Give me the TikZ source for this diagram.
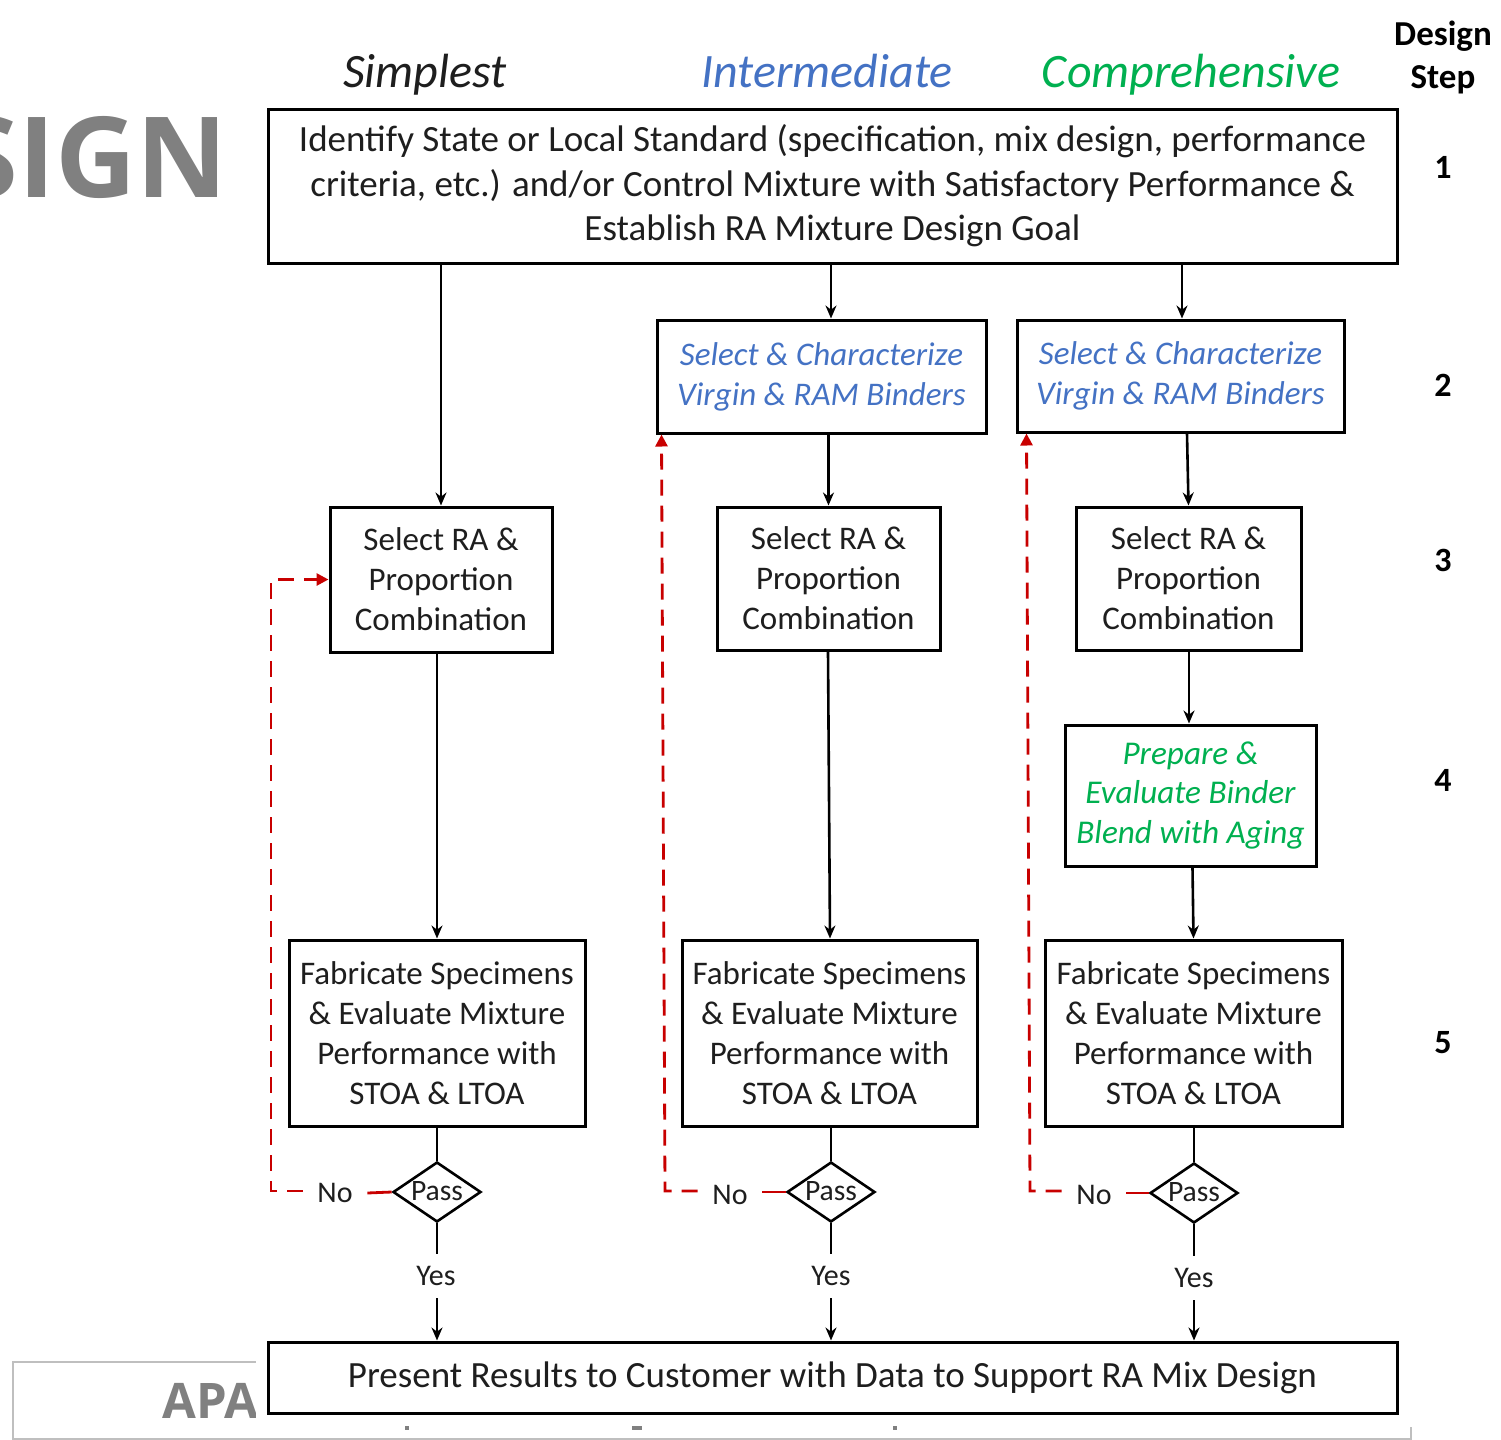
\documentclass[tikz,border=0pt]{standalone}
\usepackage{fontspec}
\setmainfont{Carlito}
\newfontfamily\grayfont{Open Sans}
\usetikzlibrary{arrows.meta,shapes.geometric,calc}
\definecolor{inkblue}{HTML}{4472C4}
\definecolor{inkgreen}{HTML}{00B050}
\definecolor{inkred}{HTML}{C80000}
\definecolor{ink}{HTML}{1E1E1E}
\definecolor{slide}{HTML}{808080}
\definecolor{frame}{HTML}{BFBFBF}
\begin{document}
\begin{tikzpicture}[x=0.5pt,y=-0.5pt,
  box/.style={draw=black,line width=1.5pt,fill=white,inner sep=0pt,align=center,
    text=ink,font=\fontsize{16.5}{20}\selectfont},
  bluebox/.style={box,text=inkblue,font=\fontsize{16.5}{20}\selectfont\itshape},
  greenbox/.style={box,text=inkgreen,font=\fontsize{16.6}{19.75}\selectfont\itshape},
  check/.style={draw=black,line width=1.3pt,fill=white,shape=diamond,aspect=1.47,
    inner sep=0pt,minimum width=44pt,minimum height=30pt,text=ink,
    font=\fontsize{14.8}{14.8}\selectfont},
  conn/.style={draw=black,line width=1.3pt,-{Stealth[length=6.5pt,width=5.5pt]}},
  plain/.style={draw=black,line width=1.3pt},
  back/.style={draw=inkred,line width=1.4pt,dash pattern=on 8pt off 5pt,
    -{Triangle[length=6pt,width=6pt]}},
  nolabel/.style={inner sep=0pt,minimum width=32pt,minimum height=16pt,text=ink,
    font=\fontsize{15}{15}\selectfont},
  yeslabel/.style={inner sep=0pt,minimum height=22pt,text=ink,
    font=\fontsize{15}{15}\selectfont},
  head/.style={font=\fontsize{24}{24}\selectfont\itshape,inner sep=0pt,anchor=base},
  stepno/.style={font=\fontsize{17}{17}\selectfont\bfseries,text=black,inner sep=0pt}]

\useasboundingbox (0,0) rectangle (1501,1440);
\clip (0,0) rectangle (1501,1440);

% slide elements behind the chart
\draw[frame,line width=1pt] (13,1362) rectangle (1411,1439);
\node[anchor=base east,inner sep=0pt,text=slide,font=\grayfont\bfseries\fontsize{56}{56}\selectfont] (title) at (228,197) {SIGN};
\node[anchor=base east,inner sep=0pt,text=slide,font=\grayfont\bfseries\fontsize{24.5}{24.5}\selectfont] (brand) at (259,1418) {APA};
\fill[white] (256,0) rectangle (1501,1427);
\fill[slide] (405,1426) rectangle (409,1430);
\fill[slide] (632,1426) rectangle (642,1430);
\fill[slide] (893,1426) rectangle (897,1430);

% column headings
\node[head,text=ink] (hs) at (425,87) {Simplest};
\node[head,text=inkblue] (hi) at (827,87) {Intermediate};
\node[head,text=inkgreen] (hc) at (1191,87) {Comprehensive};
\node[stepno,align=center,font=\fontsize{17.5}{21.5}\selectfont\bfseries] (dstep) at (1443,57) {Design\\Step};
\node[stepno] (n1) at (1443,167) {1};
\node[stepno] (n2) at (1443,385) {2};
\node[stepno] (n3) at (1443,560) {3};
\node[stepno] (n4) at (1443,780) {4};
\node[stepno] (n5) at (1443,1043) {5};

% boxes
\node[box,minimum width=564.5pt,minimum height=77pt,font=\fontsize{18.5}{22.25}\selectfont] (top) at (832.5,186)
  {Identify State or Local Standard (specification, mix design, performance\\
   criteria, etc.) and/or Control Mixture with Satisfactory Performance \&\\
   Establish RA Mixture Design Goal};

\node[bluebox,minimum width=164.5pt,minimum height=56.5pt] (s2m) at (821.5,376.5)
  {Select \& Characterize\\Virgin \& RAM Binders};
\node[bluebox,minimum width=163.5pt,minimum height=56pt] (s2r) at (1180.5,376)
  {Select \& Characterize\\Virgin \& RAM Binders};

\node[box,minimum width=111pt,minimum height=72.5pt] (s3l) at (441,579.5)
  {Select RA \&\\Proportion\\Combination};
\node[box,minimum width=111.5pt,minimum height=71.5pt] (s3m) at (828.5,578.5)
  {Select RA \&\\Proportion\\Combination};
\node[box,minimum width=112.5pt,minimum height=71.5pt] (s3r) at (1188.5,578.5)
  {Select RA \&\\Proportion\\Combination};

\node[greenbox,minimum width=125.5pt,minimum height=70.5pt] (s4) at (1190.5,795.5)
  {Prepare \&\\Evaluate Binder\\Blend with Aging};

\node[box,minimum width=148pt,minimum height=93pt] (s5l) at (437,1033)
  {Fabricate Specimens\\\& Evaluate Mixture\\Performance with\\STOA \& LTOA};
\node[box,minimum width=147.5pt,minimum height=93pt] (s5m) at (829.5,1033)
  {Fabricate Specimens\\\& Evaluate Mixture\\Performance with\\STOA \& LTOA};
\node[box,minimum width=148.5pt,minimum height=93pt] (s5r) at (1193.5,1033)
  {Fabricate Specimens\\\& Evaluate Mixture\\Performance with\\STOA \& LTOA};

\node[box,minimum width=564.5pt,minimum height=35.5pt,font=\fontsize{18.5}{20}\selectfont] (fin) at (832.5,1377.5)
  {Present Results to Customer with Data to Support RA Mix Design};

% pass checks
\node[check] (dl) at (437,1192) {\raisebox{1pt}{Pass}};
\node[check] (dm) at (831,1192) {\raisebox{1pt}{Pass}};
\node[check] (dr) at (1194,1193) {\raisebox{1pt}{Pass}};

\node[nolabel] (nol) at (335,1193) {No};
\node[nolabel] (nom) at (730,1195) {No};
\node[nolabel] (nor) at (1094,1195) {No};

\node[yeslabel] (yl) at (436,1276) {Yes};
\node[yeslabel] (ym) at (831,1276) {Yes};
\node[yeslabel] (yr) at (1194,1278) {Yes};

% forward flow
\draw[conn] (top.south -| s3l) -- (s3l.north);
\draw[conn] ($(top.south)+(-1.5,0)$) -- ($(s2m.north)+(9.5,0)$);
\draw[conn] ($(top.south -| s2r)+(1.5,0)$) -- ($(s2r.north)+(1.5,0)$);
\draw[conn] (s3m.north |- s2m.south) -- (s3m.north);
\draw[conn] ($(s3r.north |- s2r.south)+(-1.5,0)$) -- (s3r.north);
\draw[conn] (s5l.north |- s3l.south) -- (s5l.north);
\draw[conn] ($(s3m.south)+(-0.5,0)$) -- ($(s5m.north)+(0.5,0)$);
\draw[conn] ($(s4.north |- s3r.south)+(-1.5,0)$) -- ($(s4.north)+(-1.5,0)$);
\draw[conn] ($(s4.south)+(2,0)$) -- (s5r.north);

\draw[plain] (s5l.south -| dl) -- (dl.north);
\draw[plain] (s5m.south -| dm) -- (dm.north);
\draw[plain] (s5r.south -| dr) -- (dr.north);
\draw[plain] (dl.south) -- (yl.north -| dl);
\draw[plain] (dm.south) -- (ym.north);
\draw[plain] (dr.south) -- (yr.north);
\draw[conn] (yl.south -| dl) -- (fin.north -| dl);
\draw[conn] (ym.south) -- (fin.north -| ym);
\draw[conn] (yr.south) -- (fin.north -| yr);

% rework loops
\coordinate (cl) at (271,1191);
\coordinate (cm) at (665,1191);
\coordinate (cr) at (1030,1191);
\draw[inkred,line width=1.4pt] (dl.west) -- (nol.east);
\draw[inkred,line width=1.4pt] (dm.west) -- (nom.east |- dm.west);
\draw[inkred,line width=1.4pt] (dr.west) -- (nor.east |- dr.west);
\draw[back] (nol.west |- cl) -- (cl) |- (s3l.west);
\draw[back] (nom.west |- cm) -- (cm) -- ($(s2m.south west)+(6,0)$);
\draw[back] (nor.west |- cr) -- (cr) -- ($(s2r.south west)+(11,0)$);
\end{tikzpicture}
\end{document}
